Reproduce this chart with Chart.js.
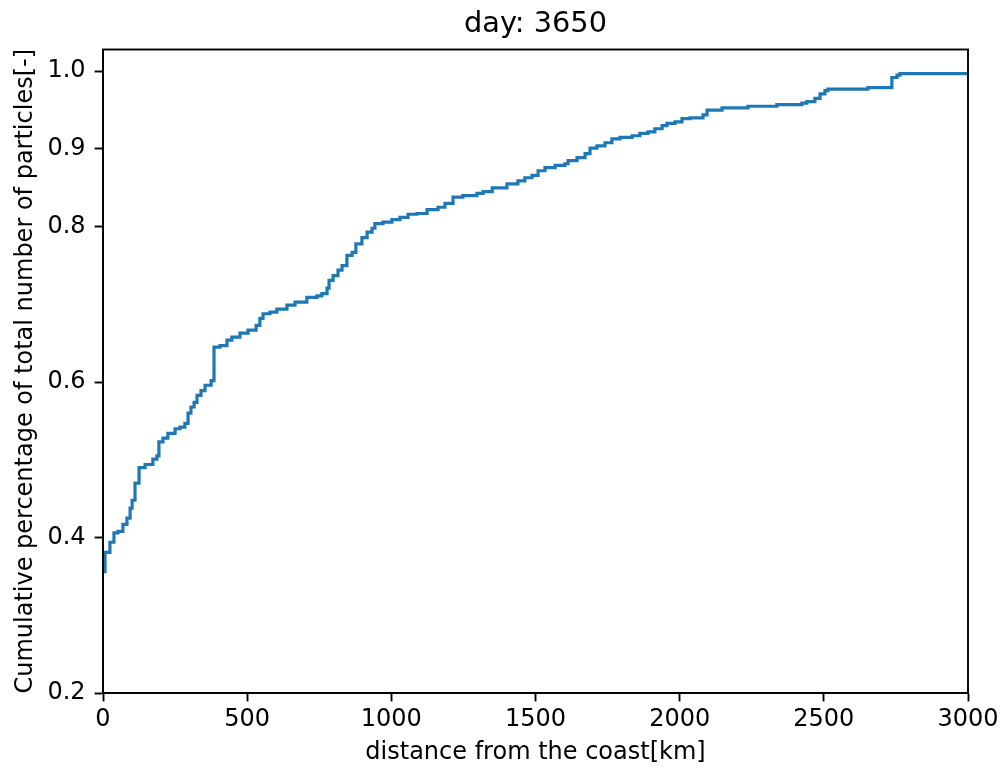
<!DOCTYPE html>
<html>
<head>
<meta charset="utf-8">
<script src="https://cdn.jsdelivr.net/npm/chart.js@4.4.1/dist/chart.umd.min.js"></script>
<style>
  html, body { margin: 0; padding: 0; background: #fff; }
  #wrap { width: 1003px; height: 774px; }
</style>
</head>
<body>
<div id="wrap"><canvas id="c" width="1003" height="774"></canvas></div>
<script>
const chartTitle = 'day: 3650';
const xAxisTitle = 'distance from the coast[km]';
const yAxisTitle = 'Cumulative percentage of total number of particles[-]';

const distanceKm = [
  0, 7, 24, 38, 52, 69, 83, 94, 101, 111, 125, 146, 173, 187, 194, 208, 225, 250, 267, 284,
  295, 305, 316, 326, 340, 354, 375, 385, 406, 430, 447, 475, 503, 531, 544, 555, 579, 603,
  638, 666, 707, 742, 759, 777, 784, 798, 815, 829, 846, 864, 877, 898, 916, 933, 943, 971,
  1002, 1030, 1058, 1089, 1124, 1162, 1186, 1214, 1248, 1297, 1318, 1350, 1401, 1439, 1463,
  1488, 1509, 1533, 1568, 1602, 1613, 1644, 1672, 1689, 1713, 1741, 1765, 1793, 1835, 1862,
  1890, 1914, 1939, 1956, 1984, 2008, 2036, 2081, 2095, 2147, 2237, 2337, 2424, 2441, 2469,
  2487, 2504, 2514, 2653, 2736, 2754, 2764, 3000
];
const cumulativeShare = [
  0.356, 0.381, 0.394, 0.406, 0.408, 0.417, 0.425, 0.438, 0.448, 0.470, 0.490, 0.494, 0.501, 0.505, 0.523, 0.528, 0.534, 0.540, 0.542, 0.547,
  0.560, 0.568, 0.574, 0.583, 0.589, 0.596, 0.602, 0.645, 0.647, 0.654, 0.658, 0.663, 0.667, 0.673, 0.682, 0.688, 0.690, 0.694,
  0.699, 0.703, 0.709, 0.711, 0.714, 0.721, 0.731, 0.737, 0.744, 0.750, 0.763, 0.767, 0.778, 0.786, 0.793, 0.798, 0.804, 0.806,
  0.809, 0.812, 0.816, 0.817, 0.822, 0.825, 0.830, 0.838, 0.840, 0.843, 0.845, 0.850, 0.855, 0.859, 0.863,
  0.866, 0.872, 0.876, 0.879, 0.881, 0.885, 0.889, 0.894, 0.901, 0.904, 0.908, 0.913, 0.915, 0.917, 0.920,
  0.922, 0.926, 0.930, 0.933, 0.935, 0.939, 0.940, 0.944, 0.950, 0.953, 0.955, 0.957, 0.959, 0.961, 0.965,
  0.971, 0.975, 0.977, 0.979, 0.992, 0.995, 0.997, 0.997
];
const xTickValues = [0, 500, 1000, 1500, 2000, 2500, 3000];
const yTickValues = [0.2, 0.4, 0.6, 0.8, 0.9, 1.0];

const points = distanceKm.map((d, i) => ({ x: d, y: cumulativeShare[i] }));

const FONT = 'DejaVu Sans';

const framePlugin = {
  id: 'frame',
  afterDraw(chart) {
    const { ctx, chartArea: a } = chart;
    ctx.save();
    ctx.strokeStyle = '#000';
    ctx.lineWidth = 1.9;
    ctx.strokeRect(a.left, a.top, a.right - a.left, a.bottom - a.top);
    ctx.restore();
  }
};

new Chart(document.getElementById('c'), {
  type: 'line',
  data: {
    datasets: [{
      data: points,
      borderColor: '#1f77b4',
      borderWidth: 3.2,
      pointRadius: 0,
      stepped: true,
      tension: 0,
      fill: false,
      xAxisID: 'x',
      yAxisID: 'y'
    }]
  },
  options: {
    responsive: false,
    animation: false,
    layout: { padding: { left: 0, right: 35, top: 0, bottom: 0 } },
    plugins: {
      legend: { display: false },
      tooltip: { enabled: false },
      title: { display: false }
    },
    scales: {
      x: {
        type: 'linear',
        position: 'bottom',
        min: 0,
        max: 3000,
        afterBuildTicks(scale) { scale.ticks = xTickValues.map(v => ({ value: v })); },
        afterFit(scale) {
          scale.height = 81;
          scale.paddingLeft = 0;
          scale.paddingRight = 0;
        },
        ticks: {
          color: '#000',
          font: { family: FONT, size: 24 },
          padding: 4,
          maxRotation: 0,
          autoSkip: false,
          callback: v => String(v)
        },
        grid: {
          display: true,
          drawOnChartArea: false,
          drawTicks: true,
          tickLength: 8.4,
          tickWidth: 1.9,
          tickColor: '#000',
          color: '#000'
        },
        border: { display: true, color: '#000', width: 1.9 },
        title: {
          display: true,
          text: xAxisTitle,
          color: '#000',
          font: { family: FONT, size: 24 },
          padding: { top: 0, bottom: 7 }
        }
      },
      xTop: {
        type: 'linear',
        axis: 'x',
        position: 'top',
        min: 0,
        max: 3000,
        afterFit(scale) {
          scale.height = 49.5;
          scale.paddingLeft = 0;
          scale.paddingRight = 0;
        },
        ticks: { display: false },
        grid: { display: false, drawTicks: false },
        border: { display: false },
        title: {
          display: true,
          text: chartTitle,
          color: '#000',
          font: { family: FONT, size: 28.8, weight: 'normal' },
          padding: { top: 7.7, bottom: 0 }
        }
      },
      y: {
        type: 'linear',
        min: 0.2,
        max: 1.028,
        afterBuildTicks(scale) { scale.ticks = yTickValues.map(v => ({ value: v })); },
        afterFit(scale) {
          scale.width = 103;
          scale.paddingTop = 0;
          scale.paddingBottom = 0;
        },
        ticks: {
          color: '#000',
          font: { family: FONT, size: 24 },
          padding: 9,
          autoSkip: false,
          callback: v => Number(v).toFixed(1)
        },
        grid: {
          display: true,
          drawOnChartArea: false,
          drawTicks: true,
          tickLength: 8.4,
          tickWidth: 1.9,
          tickColor: '#000',
          color: '#000'
        },
        border: { display: true, color: '#000', width: 1.9 },
        title: {
          display: true,
          text: yAxisTitle,
          color: '#000',
          font: { family: FONT, size: 24 },
          padding: { top: 11.5, bottom: 0 }
        }
      }
    }
  },
  plugins: [framePlugin]
});
</script>
</body>
</html>
